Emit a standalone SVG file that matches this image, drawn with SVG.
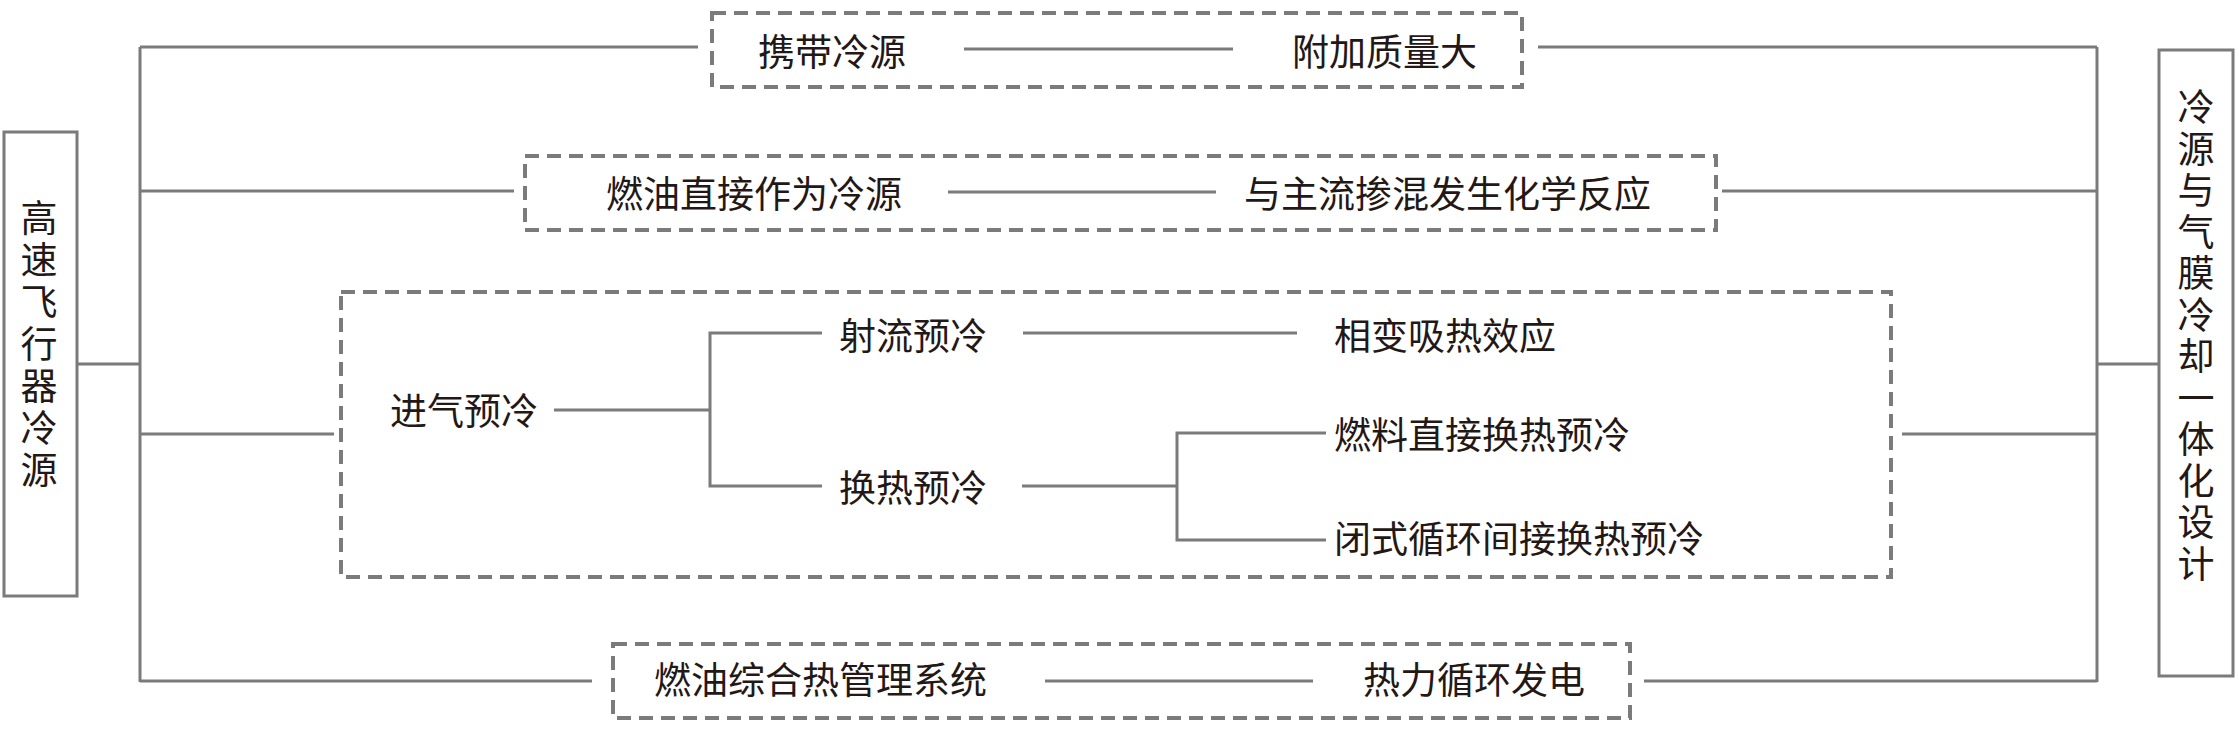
<svg xmlns="http://www.w3.org/2000/svg" width="2239" height="730" viewBox="0 0 2239 730">
<style>
.ln{stroke:#7b7b7b;stroke-width:3;fill:none}
.box{stroke:#7b7b7b;stroke-width:3;fill:#fff}
.dbox{stroke:#7b7b7b;stroke-width:4;fill:none;stroke-dasharray:14 8}
.t{font-family:"Noto Sans CJK SC","Noto Sans",sans-serif;font-size:37px;fill:#231815;dominant-baseline:central}
.vt{font-family:"Noto Sans CJK SC","Noto Sans",sans-serif;font-size:37px;fill:#231815;writing-mode:vertical-rl;text-orientation:upright}
</style>
<rect width="2239" height="730" fill="#fff"/>
<g id="connectors">
<line class="ln" x1="77" y1="364" x2="140" y2="364"/>
<line class="ln" x1="140" y1="47" x2="140" y2="682"/>
<line class="ln" x1="140" y1="47" x2="698" y2="47"/>
<line class="ln" x1="140" y1="191" x2="514" y2="191"/>
<line class="ln" x1="140" y1="434" x2="334" y2="434"/>
<line class="ln" x1="140" y1="681" x2="592" y2="681"/>
<line class="ln" x1="2097" y1="47" x2="2097" y2="682"/>
<line class="ln" x1="1538" y1="47" x2="2097" y2="47"/>
<line class="ln" x1="1722" y1="191" x2="2097" y2="191"/>
<line class="ln" x1="1902" y1="434" x2="2097" y2="434"/>
<line class="ln" x1="1644" y1="681" x2="2097" y2="681"/>
<line class="ln" x1="2097" y1="364" x2="2159" y2="364"/>
<line class="ln" x1="964" y1="49" x2="1233" y2="49"/>
<line class="ln" x1="948" y1="192" x2="1216" y2="192"/>
<line class="ln" x1="554" y1="410" x2="710" y2="410"/>
<polyline class="ln" points="822,333 710,333 710,486 822,486"/>
<line class="ln" x1="1023" y1="333" x2="1297" y2="333"/>
<line class="ln" x1="1022" y1="486" x2="1177" y2="486"/>
<polyline class="ln" points="1326,433 1177,433 1177,540 1326,540"/>
<line class="ln" x1="1045" y1="681" x2="1313" y2="681"/>
</g>
<g id="node-left">
<rect class="box" x="4" y="132" width="73" height="464"/>
<text class="vt" x="39" y="199.5" letter-spacing="5">高速飞行器冷源</text>
</g>
<g id="node-right">
<rect class="box" x="2159" y="50" width="74" height="626"/>
<text class="vt" x="2196" y="88.5" letter-spacing="4.5">冷源与气膜冷却一体化设计</text>
</g>
<g id="node-carry">
<rect class="dbox" x="712" y="13" width="810" height="74"/>
<text class="t" x="758" y="50">携带冷源</text>
<text class="t" x="1292" y="50">附加质量大</text>
</g>
<g id="node-fuel-direct">
<rect class="dbox" x="525" y="156" width="1191" height="74"/>
<text class="t" x="606" y="192">燃油直接作为冷源</text>
<text class="t" x="1244" y="192">与主流掺混发生化学反应</text>
</g>
<g id="node-precool">
<rect class="dbox" x="341" y="292" width="1550" height="285"/>
<text class="t" x="390" y="409">进气预冷</text>
<text class="t" x="839" y="334">射流预冷</text>
<text class="t" x="1334" y="334">相变吸热效应</text>
<text class="t" x="839" y="486">换热预冷</text>
<text class="t" x="1334" y="433">燃料直接换热预冷</text>
<text class="t" x="1334" y="537">闭式循环间接换热预冷</text>
</g>
<g id="node-thermal">
<rect class="dbox" x="613" y="644" width="1017" height="74"/>
<text class="t" x="654" y="678">燃油综合热管理系统</text>
<text class="t" x="1363" y="678">热力循环发电</text>
</g>
</svg>
